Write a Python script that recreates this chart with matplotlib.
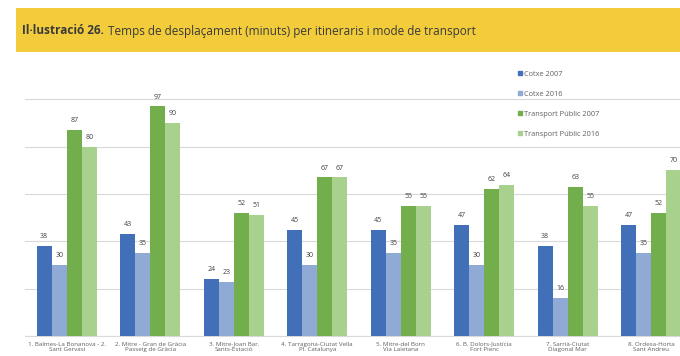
import numpy as np
import matplotlib.pyplot as plt
from matplotlib.patches import Rectangle
from matplotlib.lines import Line2D

plt.rcParams['font.family'] = ['Open Sans', 'DejaVu Sans']

# itineraris i temps (minuts)
itineraris = [
    "1. Balmes-La Bonanova - 2.\nSant Gervasi",
    "2. Mitre - Gran de Gràcia\nPasseig de Gràcia",
    "3. Mitre-Joan Bar.\nSants-Estació",
    "4. Tarragona-Ciutat Vella\nPl. Catalunya",
    "5. Mitre-del Born\nVia Laietana",
    "6. B. Dolors-Justícia\nFort Pienc",
    "7. Sarrià-Ciutat\nDiagonal Mar",
    "8. Ordesa-Horta\nSant Andreu",
]
cotxe_2007 = [38, 43, 24, 45, 45, 47, 38, 47]
cotxe_2016 = [30, 35, 23, 30, 35, 30, 16, 35]
tp_2007 = [87, 97, 52, 67, 55, 62, 63, 52]
tp_2016 = [80, 90, 51, 67, 55, 64, 55, 70]

series = [
    ("Cotxe 2007", cotxe_2007, "#4170b8"),
    ("Cotxe 2016", cotxe_2016, "#8eaad5"),
    ("Transport Públic 2007", tp_2007, "#73ae4c"),
    ("Transport Públic 2016", tp_2016, "#a9d18e"),
]

fig = plt.figure(figsize=(6.8, 3.56), dpi=100)

# franja groga del títol
fig.patches.append(Rectangle((16 / 680, 1 - 52 / 356), 664 / 680, 44 / 356,
                             transform=fig.transFigure, facecolor="#f2cc3b",
                             edgecolor="none", zorder=0))
t1 = fig.text(22 / 680, 1 - 31 / 356, "Il·lustració 26.", fontsize=8.5,
              fontweight="bold", color="#3a3a3a", va="center")
renderer = fig.canvas.get_renderer()
x1 = t1.get_window_extent(renderer).x1
fig.text((x1 + 4) / 680, 1 - 31 / 356,
         "Temps de desplaçament (minuts) per itineraris i mode de transport",
         fontsize=8.5, color="#3a3a3a", va="center")

ax = fig.add_axes([25 / 680, 20 / 356, 668 / 680, 284 / 356])
x = np.arange(len(itineraris))
w = 0.18
for i, (nom, vals, col) in enumerate(series):
    pos = x + (i - 1.5) * w
    ax.bar(pos, vals, width=w, color=col, label=nom, zorder=3)
    for p, v in zip(pos, vals):
        ax.text(p, v + 2.5, str(v), ha="center", va="bottom",
                fontsize=5, color="#404040")

ax.set_xlim(-0.5, len(itineraris) - 0.5)
ax.set_ylim(0, 120)
ax.set_yticks([0, 20, 40, 60, 80, 100])
ax.yaxis.grid(True, color="#d9d9d9", linewidth=0.8, zorder=0)
ax.tick_params(axis="y", length=0, labelleft=False)
ax.tick_params(axis="x", length=0, labelsize=4.5, labelcolor="#606060", pad=4)
ax.set_xticks(x)
ax.set_xticklabels(itineraris)
for s in ["top", "right", "left"]:
    ax.spines[s].set_visible(False)
ax.spines["bottom"].set_color("#d9d9d9")

handles = [Line2D([], [], marker="s", linestyle="none", markersize=3,
                  color=col) for _, _, col in series]
ax.legend(handles, [s[0] for s in series], loc="upper left",
          bbox_to_anchor=(485 / 668, 1 - 12 / 284), frameon=False,
          fontsize=5.3, labelcolor="#606060", handletextpad=0.2,
          labelspacing=1.75, handlelength=0.8)

fig.savefig("out.png", dpi=100)
